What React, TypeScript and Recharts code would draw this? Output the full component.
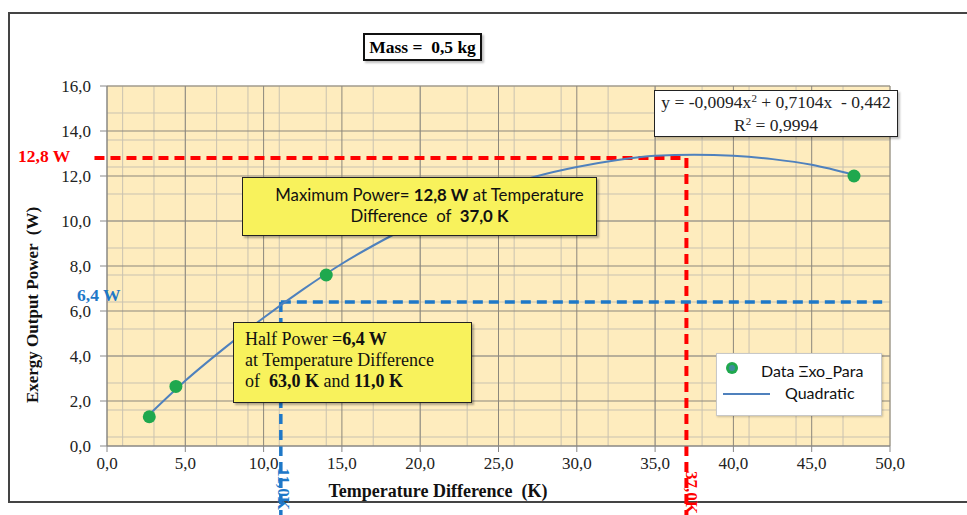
import React from "react";
import {
  ComposedChart,
  Line,
  Scatter,
  XAxis,
  YAxis,
  CartesianGrid,
  ReferenceLine,
} from "recharts";

// measured points
const dataX = [2.7, 4.4, 14.0, 47.7];
const dataY = [1.3, 2.65, 7.6, 12.0];

// quadratic trendline
const fitX = [2.7, 5, 7.5, 10, 12.5, 15, 17.5, 20, 22.5, 25, 27.5, 30, 32.5, 35, 37.5, 40, 42.5, 45, 47.7];
const fitY = [1.4, 2.9, 4.35, 5.7, 6.95, 8.1, 9.1, 10.0, 10.8, 11.45, 12.0, 12.4, 12.7, 12.9, 12.95, 12.9, 12.75, 12.5, 12.05];

const xTicks = [0, 5, 10, 15, 20, 25, 30, 35, 40, 45, 50];
const yTicks = [0, 2, 4, 6, 8, 10, 12, 14, 16];
const xMinor = Array.from({ length: 51 }, (_, i) => i);
const yMinor = Array.from({ length: 41 }, (_, i) => +(i * 0.4).toFixed(1));

const maxP = { x: 37.0, y: 12.8 };
const halfP = { x: 11.1, y: 6.4 };

const scatterData = dataX.map((x, i) => ({ x, y: dataY[i] }));
const fitData = fitX.map((x, i) => ({ x, y: fitY[i] }));

const SERIF = '"Liberation Serif", "Times New Roman", serif';
const SANS = 'Lato, "Open Sans", sans-serif';
const RED = "#FF0000";
const BLUE = "#1E78C8";

const fmt = (v: number) => v.toFixed(1).replace(".", ",");

const abs = (left: number, top: number, extra: React.CSSProperties = {}): React.CSSProperties => ({
  position: "absolute",
  left,
  top,
  ...extra,
});

const sup: React.CSSProperties = { fontSize: 11, position: "relative", top: -6 };

export default function App() {
  return (
    <div style={{ position: "fixed", left: 0, top: 0, width: 967, height: 515, background: "#fff", overflow: "hidden" }}>
      {/* outer frame */}
      <div style={abs(8, 12, { width: 980, height: 491, border: "2px solid #444", borderRight: "none", boxSizing: "border-box" })} />

      <ComposedChart
        width={967}
        height={515}
        margin={{ top: 86, right: 77, left: 47, bottom: 39 }}
        style={{ position: "absolute", left: 0, top: 0 }}
      >
        <CartesianGrid
          verticalValues={xMinor}
          horizontalValues={yMinor}
          stroke="#C9C2B0"
          strokeWidth={1}
          fill="#FEECBE"
          fillOpacity={1}
        />
        <CartesianGrid
          verticalValues={xTicks}
          horizontalValues={yTicks}
          stroke="#8C877C"
          strokeWidth={1}
        />
        <XAxis
          type="number"
          dataKey="x"
          domain={[0, 50]}
          ticks={xTicks}
          tickFormatter={fmt}
          allowDataOverflow
          height={30}
          stroke="#888"
          tickSize={6}
          tickMargin={5}
          tick={{ fontFamily: SERIF, fontSize: 17, fill: "#222" }}
        />
        <YAxis
          type="number"
          dataKey="y"
          domain={[0, 16]}
          ticks={yTicks}
          tickFormatter={fmt}
          allowDataOverflow
          width={60}
          stroke="#888"
          tickSize={7}
          tickMargin={9}
          tick={{ fontFamily: SERIF, fontSize: 17, fill: "#222" }}
        />
        <ReferenceLine
          segment={[{ x: -0.8, y: maxP.y }, { x: maxP.x, y: maxP.y }]}
          stroke={RED}
          strokeWidth={4}
          strokeDasharray="10 6"
          ifOverflow="visible"
        />
        <ReferenceLine
          segment={[{ x: maxP.x, y: maxP.y }, { x: maxP.x, y: -3.2 }]}
          stroke={RED}
          strokeWidth={4}
          strokeDasharray="10 6"
          ifOverflow="visible"
        />
        <ReferenceLine
          segment={[{ x: halfP.x, y: halfP.y }, { x: 49.5, y: halfP.y }]}
          stroke={BLUE}
          strokeWidth={3.5}
          strokeDasharray="10 6"
          ifOverflow="visible"
        />
        <ReferenceLine
          segment={[{ x: halfP.x, y: halfP.y }, { x: halfP.x, y: -3.2 }]}
          stroke={BLUE}
          strokeWidth={3.5}
          strokeDasharray="10 6"
          ifOverflow="visible"
        />
        <Line
          data={fitData}
          dataKey="y"
          type="monotone"
          stroke="#4F81BD"
          strokeWidth={2}
          dot={false}
          isAnimationActive={false}
        />
        <Scatter
          data={scatterData}
          dataKey="y"
          fill="#1FA84E"
          shape={(p: any) => <circle cx={p.cx} cy={p.cy} r={6.5} fill="#1FA84E" />}
          isAnimationActive={false}
        />
      </ComposedChart>

      {/* axis titles */}
      <div
        style={abs(33, 305, {
          transform: "translate(-50%, -50%) rotate(-90deg)",
          fontFamily: SERIF,
          fontWeight: "bold",
          fontSize: 17,
          whiteSpace: "pre",
          color: "#111",
        })}
      >
        {"Exergy Output Power  (W)"}
      </div>
      <div
        style={abs(438, 491, {
          transform: "translate(-50%, -50%)",
          fontFamily: SERIF,
          fontWeight: "bold",
          fontSize: 18,
          whiteSpace: "pre",
          color: "#111",
        })}
      >
        {"Temperature Difference  (K)"}
      </div>

      {/* reference labels */}
      <div style={abs(18, 146, { fontFamily: SERIF, fontWeight: "bold", fontSize: 17.5, color: RED, whiteSpace: "pre" })}>
        12,8 W
      </div>
      <div style={abs(77, 285, { fontFamily: SERIF, fontWeight: "bold", fontSize: 17.5, color: BLUE, whiteSpace: "pre" })}>
        6,4 W
      </div>
      <div
        style={abs(293, 468, {
          transform: "rotate(90deg)",
          transformOrigin: "left top",
          fontFamily: SERIF,
          fontWeight: "bold",
          fontSize: 17,
          lineHeight: "19px",
          color: BLUE,
          whiteSpace: "pre",
        })}
      >
        {"11,0K"}
      </div>
      <div
        style={abs(701, 471, {
          transform: "rotate(90deg)",
          transformOrigin: "left top",
          fontFamily: SERIF,
          fontWeight: "bold",
          fontSize: 17,
          lineHeight: "19px",
          color: RED,
          whiteSpace: "pre",
        })}
      >
        {"37,0K"}
      </div>

      {/* mass box */}
      <div
        style={abs(363, 33, {
          width: 119,
          height: 28,
          boxSizing: "border-box",
          border: "2px solid #111",
          background: "#fff",
          boxShadow: "2px 2px 2px rgba(0,0,0,0.25)",
          fontFamily: SERIF,
          fontWeight: "bold",
          fontSize: 17.5,
          textAlign: "center",
          lineHeight: "24px",
          whiteSpace: "pre",
        })}
      >
        {"Mass =  0,5 kg"}
      </div>

      {/* equation box */}
      <div
        style={abs(654, 90, {
          width: 244,
          height: 47,
          boxSizing: "border-box",
          border: "1.5px solid #222",
          background: "#fff",
          boxShadow: "2px 2px 2px rgba(0,0,0,0.25)",
          fontFamily: SERIF,
          fontSize: 17.5,
          textAlign: "center",
          lineHeight: "21px",
          paddingTop: 1,
          whiteSpace: "pre",
          color: "#222",
        })}
      >
        <div>
          {"y = -0,0094x"}
          <span style={sup}>2</span>
          {" + 0,7104x  - 0,442"}
        </div>
        <div>
          {"R"}
          <span style={sup}>2</span>
          {" = 0,9994"}
        </div>
      </div>

      {/* max power box */}
      <div
        style={abs(242, 177, {
          width: 355,
          height: 59,
          boxSizing: "border-box",
          border: "1.5px solid #222",
          background: "#F8F25C",
          boxShadow: "2px 2px 2px rgba(0,0,0,0.3)",
          fontFamily: SANS,
          fontSize: 16.8,
          textAlign: "center",
          lineHeight: "21px",
          paddingTop: 6,
          paddingLeft: 20,
          whiteSpace: "pre",
          color: "#111",
        })}
      >
        <div>
          {"Maximum Power= "}
          <b>12,8 W</b>
          {" at Temperature"}
        </div>
        <div>
          {"Difference  of  "}
          <b>37,0 K</b>
        </div>
      </div>

      {/* half power box */}
      <div
        style={abs(233, 322, {
          width: 239,
          height: 81,
          boxSizing: "border-box",
          border: "1.5px solid #222",
          background: "#F8F25C",
          boxShadow: "2px 2px 2px rgba(0,0,0,0.3)",
          fontFamily: SERIF,
          fontSize: 18,
          lineHeight: "21px",
          paddingTop: 6,
          paddingLeft: 11,
          whiteSpace: "pre",
          color: "#111",
        })}
      >
        <div>
          {"Half Power ="}
          <b>6,4 W</b>
        </div>
        <div>at Temperature Difference</div>
        <div>
          {"of  "}
          <b>63,0 K</b>
          {" and "}
          <b>11,0 K</b>
        </div>
      </div>

      {/* legend */}
      <div
        style={abs(716, 353, {
          width: 166,
          height: 63,
          boxSizing: "border-box",
          border: "1px solid #C8C8C8",
          background: "#fff",
          boxShadow: "1px 1px 2px rgba(0,0,0,0.2)",
          fontFamily: SANS,
          fontSize: 16,
          color: "#111",
        })}
      >
        <svg width={166} height={63} style={{ position: "absolute", left: 0, top: 0 }}>
          <circle cx={15} cy={14} r={6} fill="#1FA84E" />
          <circle cx={15} cy={14} r={3} fill="#4F81BD" opacity={0.7} />
          <line x1={6} y1={40} x2={53} y2={40} stroke="#4F81BD" strokeWidth={2} />
        </svg>
        <div style={abs(44, 7, { whiteSpace: "pre" })}>Data Ξxo_Para</div>
        <div style={abs(68, 29, { whiteSpace: "pre" })}>Quadratic</div>
      </div>
    </div>
  );
}
